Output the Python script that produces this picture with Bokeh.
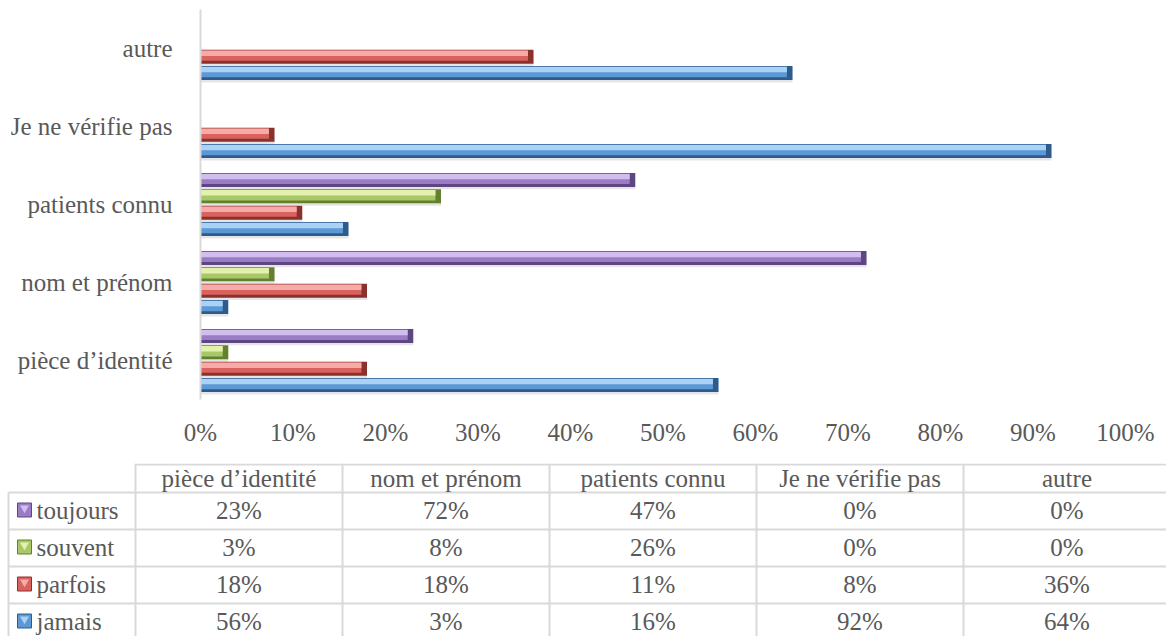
from bokeh.plotting import figure
from bokeh.models import ColumnDataSource, FactorRange, Range1d, FixedTicker, NumeralTickFormatter
from bokeh.transform import dodge
from bokeh.embed import file_html
from bokeh.resources import INLINE
from bokeh.core.properties import value

# ---------------- data ----------------
categories = ["pièce d’identité", "nom et prénom", "patients connu", "Je ne vérifie pas", "autre"]
series = ["toujours", "souvent", "parfois", "jamais"]
toujours = [23, 72, 47, 0, 0]
souvent = [3, 8, 26, 0, 0]
parfois = [18, 18, 11, 8, 36]
jamais = [56, 3, 16, 92, 64]
x_ticks = [0, 10, 20, 30, 40, 50, 60, 70, 80, 90, 100]

values = {"toujours": toujours, "souvent": souvent, "parfois": parfois, "jamais": jamais}

# ---------------- styles ----------------
FONT = "Liberation Serif"
FS = "25px"
TXT = "#595959"
GRID = "#D9D9D9"
colors = {
    "toujours": ("#D2BDF0", "#9A7CC4", "#5E4683"),
    "souvent": ("#E2F2AE", "#A9C768", "#62802E"),
    "parfois": ("#F7ABA8", "#D9625E", "#8A302D"),
    "jamais": ("#A9D2F5", "#5C98D4", "#2D5B8E"),
}
offsets = {"toujours": 0.315, "souvent": 0.105, "parfois": -0.105, "jamais": -0.315}
H = 0.18
BEVEL = 0.006

data = {"cat": categories}
for s in series:
    data[s] = [v / 100 for v in values[s]]
    data[s + "_in"] = [max(v / 100 - BEVEL, 0) for v in values[s]]
src = ColumnDataSource(data)

p = figure(width=1166, height=463,
           y_range=FactorRange(factors=categories, range_padding=0, factor_padding=0),
           x_range=Range1d(0, 1),
           output_backend="svg", toolbar_location=None,
           min_border_left=200, min_border_right=41, min_border_top=9, min_border_bottom=64)
p.outline_line_color = None
p.xgrid.visible = False
p.ygrid.visible = False

for s in series:
    d = offsets[s]
    light, mid, dark = colors[s]
    # soft shadow
    p.hbar(y=dodge("cat", d - 0.03, range=p.y_range), left=0, right=s, height=H,
           source=src, fill_color="#000000", fill_alpha=0.10, line_color=None)
    # dark body (edges)
    p.hbar(y=dodge("cat", d, range=p.y_range), left=0, right=s, height=H,
           source=src, fill_color=dark, line_color=None)
    # mid face
    p.hbar(y=dodge("cat", d + 0.012, range=p.y_range), left=0, right=s + "_in", height=H - 0.05,
           source=src, fill_color=mid, line_color=None)
    # light upper face
    p.hbar(y=dodge("cat", d + 0.045, range=p.y_range), left=0, right=s + "_in", height=0.07,
           source=src, fill_color=light, line_color=None)

p.xaxis.ticker = FixedTicker(ticks=[t / 100 for t in x_ticks])
p.xaxis.formatter = NumeralTickFormatter(format="0%")
p.xaxis.axis_line_color = None
p.xaxis.major_tick_line_color = None
p.xaxis.minor_tick_line_color = None
p.xaxis.major_label_standoff = 13
p.xaxis.major_label_text_font = FONT
p.xaxis.major_label_text_font_size = FS
p.xaxis.major_label_text_color = TXT

p.yaxis.axis_line_color = GRID
p.yaxis.axis_line_width = 2
p.yaxis.major_tick_line_color = None
p.yaxis.minor_tick_line_color = None
p.yaxis.major_label_standoff = 22
p.yaxis.major_label_text_font = FONT
p.yaxis.major_label_text_font_size = FS
p.yaxis.major_label_text_color = TXT

# ---------------- data table ----------------
TOP = 463
BOT = 636
t = figure(width=1166, height=BOT - TOP, x_range=Range1d(0, 1166), y_range=Range1d(BOT, TOP),
           output_backend="svg", toolbar_location=None, min_border=0,
           x_axis_location=None, y_axis_location=None)
t.outline_line_color = None
t.xgrid.visible = False
t.ygrid.visible = False

col_left = 135
col_w = 207
left_edge = 8
header_h = 29
row_h = 37
right_edge = col_left + col_w * len(categories)
row_tops = [TOP + header_h + row_h * i for i in range(len(series) + 1)]
bottom_edge = row_tops[-1]

x0, y0, x1, y1 = [], [], [], []
x0.append(col_left); x1.append(right_edge); y0.append(TOP + 1); y1.append(TOP + 1)
for yy in row_tops:
    x0.append(left_edge); x1.append(right_edge); y0.append(yy); y1.append(yy)
x0.append(left_edge); x1.append(left_edge); y0.append(row_tops[0]); y1.append(bottom_edge)
for k in range(len(categories) + 1):
    xx = col_left + col_w * k
    x0.append(xx); x1.append(xx); y0.append(TOP); y1.append(bottom_edge)
t.segment(x0=x0, y0=y0, x1=x1, y1=y1, line_color=GRID, line_width=2)

# column headers
hx = [col_left + col_w * k + col_w / 2 for k in range(len(categories))]
hy = [TOP + header_h / 2] * len(categories)
t.text(x=hx, y=hy, text=categories, text_font=value(FONT), text_font_size=FS,
       text_color=TXT, text_align="center", text_baseline="middle")

# rows
for i, s in enumerate(series):
    cy = row_tops[i] + row_h / 2 - 1
    light, mid, dark = colors[s]
    t.rect(x=[24], y=[cy], width=14, height=14, fill_color=mid, line_color=dark, line_width=1)
    t.scatter(x=[24], y=[cy - 2], marker="inverted_triangle", size=9,
              fill_color=light, line_color=None)
    t.text(x=[36], y=[cy], text=[s], text_font=value(FONT), text_font_size=FS,
           text_color=TXT, text_align="left", text_baseline="middle")
    t.text(x=hx, y=[cy] * len(categories), text=[f"{v}%" for v in values[s]],
           text_font=value(FONT), text_font_size=FS,
           text_color=TXT, text_align="center", text_baseline="middle")

open("out.html", "w").write(file_html([p, t], INLINE))
